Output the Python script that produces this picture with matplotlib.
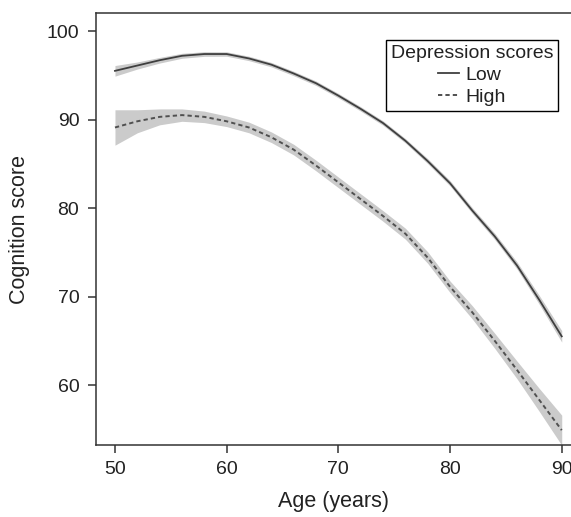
import numpy as np
import matplotlib
matplotlib.use("Agg")
import matplotlib.pyplot as plt

plt.rcParams['font.family'] = ['Liberation Sans', 'DejaVu Sans']

# Age grid (years)
age = [50, 52, 54, 56, 58, 60, 62, 64, 66, 68, 70,
       72, 74, 76, 78, 80, 82, 84, 86, 88, 90]

# Low depression scores: fitted cognition and half-width of the band
low_fit = [95.5, 96.1, 96.7, 97.2, 97.4, 97.4, 96.9, 96.2, 95.2, 94.1, 92.7,
           91.2, 89.6, 87.6, 85.3, 82.8, 79.7, 76.8, 73.5, 69.6, 65.5]
low_hw = [0.6, 0.4, 0.32, 0.28, 0.26, 0.25, 0.25, 0.25, 0.25, 0.25, 0.25,
          0.25, 0.25, 0.25, 0.28, 0.3, 0.32, 0.35, 0.4, 0.5, 0.65]

# High depression scores
high_fit = [89.1, 89.8, 90.3, 90.5, 90.3, 89.8, 89.1, 88.0, 86.6, 84.8, 82.9,
            81.0, 79.1, 77.1, 74.4, 71.1, 68.2, 65.0, 61.7, 58.3, 54.9]
high_hw = [2.0, 1.3, 0.9, 0.7, 0.65, 0.6, 0.6, 0.6, 0.6, 0.6, 0.6,
           0.6, 0.6, 0.62, 0.65, 0.65, 0.75, 0.85, 1.0, 1.3, 1.7]

age = np.array(age)
low_fit, low_hw = np.array(low_fit), np.array(low_hw)
high_fit, high_hw = np.array(high_fit), np.array(high_hw)

fig = plt.figure(figsize=(5.71, 5.17), dpi=100)
ax = fig.add_axes([0.1681, 0.1402, 0.8319, 0.8337])

band = "#cbcbcb"
ax.fill_between(age, low_fit - low_hw, low_fit + low_hw, color=band, lw=0)
ax.fill_between(age, high_fit - high_hw, high_fit + high_hw, color=band, lw=0)
ax.plot(age, low_fit, color="#3f3f3f", lw=1.3, label="Low")
ax.plot(age, high_fit, color="#505050", lw=1.4, dashes=(2.2, 1.6), label="High")

ax.set_xlim(48.3, 90.83)
ax.set_ylim(53.28, 101.98)
ax.set_xticks([50, 60, 70, 80, 90])
ax.set_yticks([60, 70, 80, 90, 100])

for s in ["left", "bottom", "top"]:
    ax.spines[s].set_color("#333333")
    ax.spines[s].set_linewidth(1.1)
ax.spines["right"].set_visible(False)
ax.tick_params(direction="out", length=6, width=1.1, color="#333333",
               labelsize=14, labelcolor="#222222", pad=6)

ax.set_xlabel("Age (years)", fontsize=15.5, color="#222222", labelpad=9)
ax.set_ylabel("Cognition score", fontsize=15.5, color="#222222", labelpad=12)

leg = ax.legend(title="Depression scores", loc="upper right",
                bbox_to_anchor=(0.9726, 0.9385), borderaxespad=0,
                fancybox=False, framealpha=1, edgecolor="black",
                fontsize=14, title_fontsize=14, handlelength=1.1,
                handletextpad=0.3, labelspacing=0.22, borderpad=0.25)
leg.get_frame().set_linewidth(1.0)
for t in leg.get_texts():
    t.set_color("#222222")
leg.get_title().set_color("#222222")

fig.savefig("out.png", dpi=100)
